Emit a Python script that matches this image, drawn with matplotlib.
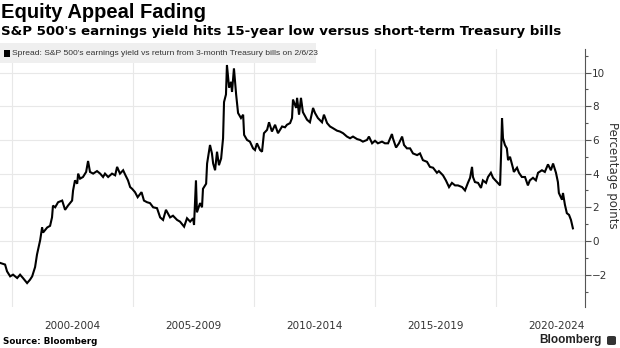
import matplotlib
matplotlib.use("Agg")
import matplotlib.pyplot as plt
from matplotlib.patches import Rectangle, FancyBboxPatch
from matplotlib.ticker import FixedLocator, MultipleLocator

# ---- data (decimal year, spread in percentage points) ----
years = [1999.50, 1999.71, 1999.79, 1999.92, 2000.04, 2000.21, 2000.33, 2000.45, 2000.62, 2000.74,
         2000.83, 2000.95, 2001.03, 2001.16, 2001.24, 2001.28, 2001.45, 2001.57, 2001.65, 2001.69,
         2001.78, 2001.90, 2002.07, 2002.19, 2002.31, 2002.48, 2002.52, 2002.60, 2002.69, 2002.73,
         2002.81, 2002.93, 2003.06, 2003.14, 2003.22, 2003.35, 2003.51, 2003.64, 2003.76, 2003.84,
         2003.97, 2004.13, 2004.26, 2004.34, 2004.46, 2004.59, 2004.67, 2004.79, 2004.88, 2004.96,
         2005.08, 2005.19, 2005.35, 2005.45, 2005.58, 2005.70, 2005.83, 2005.99, 2006.12, 2006.24,
         2006.36, 2006.53, 2006.65, 2006.82, 2006.94, 2007.11, 2007.23, 2007.36, 2007.48, 2007.52,
         2007.60, 2007.64, 2007.77, 2007.85, 2007.89, 2008.02, 2008.06, 2008.18, 2008.26, 2008.31,
         2008.39, 2008.47, 2008.55, 2008.64, 2008.72, 2008.76, 2008.84, 2008.88, 2008.97, 2009.05,
         2009.09, 2009.17, 2009.26, 2009.34, 2009.46, 2009.55, 2009.59, 2009.71, 2009.83, 2009.96,
         2010.04, 2010.12, 2010.25, 2010.33, 2010.41, 2010.54, 2010.62, 2010.74, 2010.87, 2010.99,
         2011.16, 2011.28, 2011.36, 2011.49, 2011.57, 2011.61, 2011.74, 2011.78, 2011.86, 2011.94,
         2012.02, 2012.19, 2012.31, 2012.44, 2012.52, 2012.64, 2012.81, 2012.89, 2013.02, 2013.14,
         2013.26, 2013.43, 2013.55, 2013.68, 2013.84, 2013.97, 2014.09, 2014.26, 2014.38, 2014.50,
         2014.67, 2014.75, 2014.88, 2015.00, 2015.12, 2015.29, 2015.41, 2015.54, 2015.70, 2015.74,
         2015.87, 2015.99, 2016.12, 2016.20, 2016.32, 2016.45, 2016.57, 2016.74, 2016.86, 2016.98,
         2017.15, 2017.27, 2017.40, 2017.56, 2017.64, 2017.81, 2017.93, 2018.06, 2018.18, 2018.31,
         2018.43, 2018.60, 2018.72, 2018.84, 2018.93, 2019.01, 2019.05, 2019.13, 2019.26, 2019.38,
         2019.46, 2019.59, 2019.67, 2019.79, 2019.88, 2020.04, 2020.17, 2020.21, 2020.25, 2020.29,
         2020.37, 2020.45, 2020.50, 2020.58, 2020.70, 2020.74, 2020.87, 2020.95, 2021.07, 2021.20,
         2021.32, 2021.40, 2021.53, 2021.65, 2021.74, 2021.90, 2022.02, 2022.15, 2022.27, 2022.36,
         2022.48, 2022.56, 2022.60, 2022.73, 2022.77, 2022.85, 2022.93, 2023.02, 2023.10, 2023.18]

spread = [-1.30, -1.40, -1.80, -2.10, -2.00, -2.20, -2.00, -2.20, -2.50, -2.30,
          -2.10, -1.55, -0.80, 0.05, 0.80, 0.50, 0.80, 0.90, 1.40, 2.10,
          2.00, 2.30, 2.40, 1.85, 2.10, 2.40, 3.00, 3.60, 3.40, 4.00,
          3.70, 3.80, 4.10, 4.75, 4.10, 4.00, 4.15, 4.00, 3.80, 4.00,
          3.80, 4.00, 3.90, 4.40, 4.00, 4.20, 3.95, 3.60, 3.20, 3.10,
          2.90, 2.60, 2.90, 2.40, 2.30, 2.25, 2.00, 1.95, 1.40, 1.25,
          1.85, 1.40, 1.50, 1.25, 1.15, 0.85, 1.35, 1.15, 1.35, 0.95,
          3.60, 1.70, 2.25, 2.00, 3.10, 3.40, 4.60, 5.70, 5.20, 4.60,
          4.20, 5.30, 4.50, 4.90, 6.10, 8.25, 8.70, 10.45, 9.10, 9.45,
          8.85, 10.25, 8.70, 7.60, 7.30, 7.50, 6.30, 6.00, 5.90, 5.50,
          5.40, 5.80, 5.40, 5.30, 6.40, 6.60, 7.05, 6.50, 6.90, 6.40,
          6.80, 6.75, 6.90, 7.00, 7.30, 8.40, 7.90, 8.50, 7.50, 8.50,
          7.65, 7.20, 7.05, 7.90, 7.60, 7.30, 7.05, 7.50, 7.00, 6.80,
          6.70, 6.55, 6.50, 6.40, 6.20, 6.10, 6.20, 6.05, 6.00, 5.90,
          6.00, 6.20, 5.80, 5.95, 5.80, 5.90, 5.80, 5.80, 6.35, 6.10,
          5.55, 5.80, 6.20, 5.70, 5.50, 5.50, 5.20, 5.10, 5.20, 4.80,
          4.70, 4.40, 4.35, 4.05, 4.15, 3.90, 3.60, 3.20, 3.45, 3.30,
          3.30, 3.20, 3.00, 3.45, 3.75, 4.40, 3.80, 3.50, 3.45, 3.15,
          3.60, 3.45, 3.80, 4.05, 3.75, 3.50, 3.30, 5.10, 7.30, 6.10,
          5.70, 5.50, 4.80, 5.00, 4.35, 4.10, 4.35, 4.05, 3.80, 3.80,
          3.30, 3.60, 3.75, 3.60, 4.05, 4.20, 4.10, 4.55, 4.20, 4.60,
          4.05, 3.50, 2.85, 2.45, 2.85, 2.15, 1.65, 1.55, 1.25, 0.75]

period_centers = [2002.5, 2007.5, 2012.5, 2017.5, 2022.5]
period_labels = ["2000-2004", "2005-2009", "2010-2014", "2015-2019", "2020-2024"]
period_bounds = [2000, 2005, 2010, 2015, 2020]
y_ticks = [-2, 0, 2, 4, 6, 8, 10]

title = "Equity Appeal Fading"
subtitle = "S&P 500's earnings yield hits 15-year low versus short-term Treasury bills"
legend_text = "Spread: S&P 500's earnings yield vs return from 3-month Treasury bills on 2/6/23"

W, H = 620, 348
fig = plt.figure(figsize=(W / 100, H / 100), dpi=100)
fig.patch.set_facecolor("white")

ax = fig.add_axes([0 / W, 1 - 307 / H, 585 / W, (307 - 49) / H])
ax.plot(years, spread, color="black", lw=1.5, solid_joinstyle="miter", zorder=3)

ax.set_xlim(1999.50, 2023.68)
ax.set_ylim(-3.92, 11.40)

# grid
for yv in y_ticks:
    ax.axhline(yv, color="#e8e8e8", lw=0.8, zorder=1)
for xv in period_bounds:
    ax.axvline(xv, color="#e8e8e8", lw=0.8, zorder=1)

# axes styling
for s in ["top", "bottom", "left"]:
    ax.spines[s].set_visible(False)
ax.spines["right"].set_color("#555555")
ax.spines["right"].set_linewidth(0.8)

ax.yaxis.tick_right()
ax.yaxis.set_major_locator(FixedLocator(y_ticks))
ax.yaxis.set_minor_locator(MultipleLocator(1))
ax.tick_params(axis="y", which="major", length=4, width=0.8, color="#555555",
               labelsize=7.5, labelcolor="#333333", pad=1)
ax.tick_params(axis="y", which="minor", length=2.5, width=0.8, color="#555555")

ax.set_xticks(period_centers)
ax.set_xticklabels(period_labels)
ax.tick_params(axis="x", length=0, labelsize=7.5, labelcolor="#333333", pad=10)

ax.yaxis.set_label_position("right")
ax.set_ylabel("Percentage points", rotation=270, fontsize=8.5, color="#333333",
              va="center", ha="center")
ax.yaxis.set_label_coords(612 / 585, (307 - 175) / (307 - 49))

# legend band
ax.add_patch(Rectangle((0, 1 - 63 / H), 316 / W, 20 / H, transform=fig.transFigure,
                       facecolor="#efefef", edgecolor="none", zorder=5, clip_on=False))
ax.add_patch(Rectangle((4 / W, 1 - 57 / H), 6 / W, 7 / H, transform=fig.transFigure,
                       facecolor="black", edgecolor="none", zorder=6, clip_on=False))
fig.text(12 / W, 1 - 53.5 / H, legend_text, fontsize=6.1, color="#333333",
         family="Liberation Sans", va="center", ha="left", zorder=7)

# titles
fig.text(1 / W, 1 - 12 / H, title, fontsize=14.5, fontweight="bold",
         family="Liberation Sans", va="center", ha="left")
fig.text(1 / W, 1 - 31.5 / H, subtitle, fontsize=9.6, fontweight="bold",
         family="DejaVu Sans", va="center", ha="left")

# footer
fig.text(3 / W, 1 - 341 / H, "Source: Bloomberg", fontsize=6.3, fontweight="bold",
         va="center", ha="left")
fig.text(602 / W, 1 - 340 / H, "Bloomberg", fontsize=8.5, fontweight="bold",
         family="Liberation Sans", va="center", ha="right", color="#222222")
fig.patches.append(FancyBboxPatch((607 / W, 1 - 345 / H), 9 / W, 9 / H,
                                  boxstyle="round,pad=0,rounding_size=0.004",
                                  transform=fig.transFigure, facecolor="#333333",
                                  edgecolor="none"))

fig.savefig("out.png", dpi=100, facecolor="white")
